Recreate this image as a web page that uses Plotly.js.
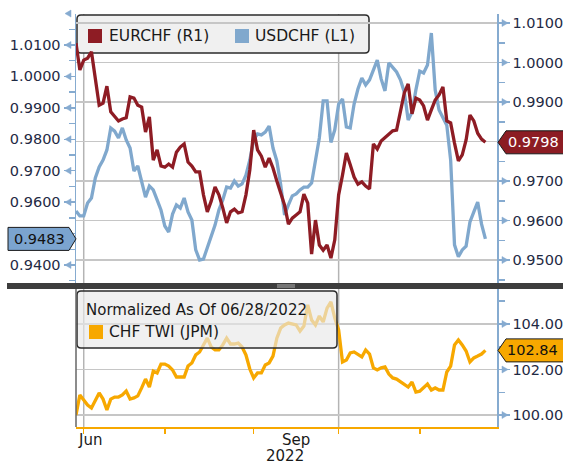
<!DOCTYPE html>
<html><head><meta charset="utf-8">
<script src="https://cdn.plot.ly/plotly-3.0.1.min.js"></script>
<style>html,body{margin:0;padding:0;background:#fff}#chart{width:563px;height:465px}</style>
</head><body><div id="chart"></div>
<script>
// ---------------- DATA ----------------
const startDate = '2022-06-29';
const seriesNames = ['EURCHF (R1)', 'USDCHF (L1)', 'CHF TWI (JPM)'];
const normalizedNote = 'Normalized As Of 06/28/2022';

const eurchf = [1.0049,0.9981,1.0006,1.0011,1.0027,0.9956,0.9892,0.9897,0.9940,0.9875,
0.9865,0.9852,0.9857,0.9860,0.9913,0.9910,0.9892,0.9887,0.9824,0.9862,
0.9753,0.9779,0.9738,0.9735,0.9743,0.9735,0.9773,0.9786,0.9794,0.9748,
0.9738,0.9723,0.9723,0.9665,0.9622,0.9649,0.9685,0.9665,0.9632,0.9594,
0.9622,0.9629,0.9619,0.9622,0.9665,0.9728,0.9829,0.9779,0.9763,0.9735,
0.9758,0.9733,0.9700,0.9667,0.9639,0.9591,0.9606,0.9614,0.9622,0.9667,
0.9644,0.9515,0.9601,0.9538,0.9525,0.9538,0.9505,0.9551,0.9665,0.9715,
0.9771,0.9741,0.9710,0.9692,0.9698,0.9687,0.9680,0.9794,0.9781,0.9801,
0.9809,0.9819,0.9827,0.9829,0.9877,0.9923,0.9946,0.9870,0.9910,0.9905,
0.9890,0.9854,0.9880,0.9905,0.9918,0.9938,0.9852,0.9847,0.9796,0.9751,
0.9766,0.9804,0.9867,0.9852,0.9821,0.9806,0.9798];

const usdchf = [0.9572,0.9556,0.9556,0.9597,0.9613,0.9677,0.9712,0.9734,0.9766,0.9836,
0.9826,0.9804,0.9836,0.9798,0.9772,0.9699,0.9715,0.9664,0.9616,0.9651,
0.9639,0.9607,0.9575,0.9524,0.9505,0.9562,0.9591,0.9581,0.9613,0.9569,
0.9543,0.9448,0.9416,0.9419,0.9457,0.9496,0.9527,0.9575,0.9607,0.9648,
0.9645,0.9667,0.9651,0.9658,0.9686,0.9734,0.9798,0.9817,0.9814,0.9823,
0.9842,0.9772,0.9731,0.9655,0.9559,0.9591,0.9620,0.9626,0.9639,0.9648,
0.9648,0.9661,0.9734,0.9804,0.9922,0.9922,0.9790,0.9830,0.9912,0.9928,
0.9839,0.9836,0.9912,0.9960,0.9995,0.9973,0.9989,1.0020,1.0052,0.9992,
0.9954,1.0043,1.0030,1.0014,0.9989,0.9950,0.9861,0.9887,0.9957,1.0017,
1.0011,1.0036,1.0138,0.9957,0.9893,0.9868,0.9845,0.9734,0.9464,0.9426,
0.9448,0.9460,0.9537,0.9569,0.9600,0.9530,0.9483];

const chfTwi = [100.00,100.88,100.66,100.44,100.31,100.66,100.97,100.70,100.22,100.70,
100.79,100.79,100.88,101.05,100.70,100.75,100.84,101.19,101.58,101.23,
101.93,101.85,102.24,102.24,102.15,101.98,101.67,101.67,101.67,102.15,
102.29,102.64,102.77,103.08,103.38,102.99,102.86,102.86,103.08,103.38,
103.12,103.12,103.16,102.99,102.64,102.02,101.63,101.85,101.85,102.20,
102.29,102.59,103.38,103.82,103.96,104.04,104.00,103.96,103.69,103.91,
104.84,104.18,103.96,104.35,104.09,104.70,104.97,104.26,103.74,102.33,
102.42,102.73,102.77,102.68,102.55,102.86,102.68,102.07,101.98,102.07,
102.11,101.80,101.63,101.58,101.45,101.32,101.23,101.45,101.01,101.05,
101.23,101.36,101.10,101.19,101.10,101.10,101.89,102.15,103.08,103.30,
103.08,102.81,102.33,102.51,102.59,102.68,102.84];

const leftTickVals  = [0.94, 0.95, 0.96, 0.97, 0.98, 0.99, 1.00, 1.01, 1.02];
const leftTickText  = ['0.9400','', '0.9600','0.9700','0.9800','0.9900','1.0000','1.0100',''];
const rightTickVals = [0.95, 0.96, 0.97, 0.98, 0.99, 1.00, 1.01];
const rightTickText = ['0.9500','0.9600','0.9700','','0.9900','1.0000','1.0100'];
const twiTickVals   = [100, 102, 104];
const twiTickText   = ['100.00','102.00','104.00'];
const monthStarts   = ['2022-07-01','2022-08-01','2022-09-01','2022-10-03','2022-11-01'];
const quarterStarts = ['2022-07-01','2022-10-03'];
const xLabelText    = ['Jun','Sep'];
const xLabelAt      = ['2022-06-29','2022-09-16'];
const yearLabel     = '2022';
const yearLabelAt   = '2022-09-13';

// ---------------- STYLE / LAYOUT HELPERS ----------------
const FONT = 'DejaVu Sans, Verdana, sans-serif';
const RED = '#8e1c24', BLUE = '#80a8cd', ORANGE = '#f7a800';
const AXBLUE = '#86abd0', LABEL = '#1f2a44', GRID = '#c6c6c6';
const W = 563, H = 465, ML = 76, MR = 66, MT = 14, MB = 38;
const PW = W - ML - MR, PH = H - MT - MB;
const PX = x => (x - ML) / PW;
const PY = y => (H - MB - y) / PH;
const domTop = [PY(283), 1];
const domBot = [0, PY(289)];
const usdRange = [0.93427, 1.01986];
const eurRange = [0.94418, 1.01228];
const twiRange = [99.473, 105.538];
const v2p = (v, r, d) => d[0] + (v - r[0]) / (r[1] - r[0]) * (d[1] - d[0]);

function businessDays(start, n) {
  const out = []; const d = new Date(start + 'T00:00:00Z');
  while (out.length < n) {
    const wd = d.getUTCDay();
    if (wd !== 0 && wd !== 6) out.push(d.toISOString().slice(0, 10));
    d.setUTCDate(d.getUTCDate() + 1);
  }
  return out;
}
const dates = businessDays(startDate, eurchf.length);

function roundRect(x0, y0, x1, y1, r) {
  const a = PX(x0), b = PX(x1), t = PY(y0), u = PY(y1);
  const rx = r / PW, ry = r / PH;
  return `M ${a + rx},${t} L ${b - rx},${t} Q ${b},${t} ${b},${t - ry} L ${b},${u + ry} Q ${b},${u} ${b - rx},${u} L ${a + rx},${u} Q ${a},${u} ${a},${u + ry} L ${a},${t - ry} Q ${a},${t} ${a + rx},${t} Z`;
}
function rectPx(x0, y0, x1, y1, fill, line) {
  return {type: 'rect', xref: 'paper', yref: 'paper', x0: PX(x0), x1: PX(x1), y0: PY(y1), y1: PY(y0),
    fillcolor: fill, line: {width: line ? 1 : 0, color: line || fill}, layer: 'above'};
}

// ---------------- TRACES ----------------
const traces = [
  {x: dates, y: eurchf, yaxis: 'y2', type: 'scatter', mode: 'lines', line: {color: RED, width: 3.3}, name: seriesNames[0]},
  {x: dates, y: usdchf, yaxis: 'y', type: 'scatter', mode: 'lines', line: {color: BLUE, width: 3.3}, name: seriesNames[1]},
  {x: dates, y: chfTwi, yaxis: 'y3', type: 'scatter', mode: 'lines', line: {color: ORANGE, width: 3.3}, name: seriesNames[2]}
];

// ---------------- SHAPES ----------------
const shapes = [];
quarterStarts.forEach(q => {
  [domTop, domBot].forEach(d => shapes.push({type: 'line', xref: 'x', yref: 'paper', x0: q, x1: q, y0: d[0], y1: d[1],
    line: {color: '#b4b4b4', width: 1.5}, layer: 'between'}));
});
// legend boxes
shapes.push({type: 'path', xref: 'paper', yref: 'paper', path: roundRect(77, 15, 369, 53, 4),
  fillcolor: 'rgb(240,240,240)', line: {color: '#2b2b2b', width: 1.5}, layer: 'between'});
shapes.push({type: 'path', xref: 'paper', yref: 'paper', path: roundRect(77, 291, 337, 348, 4),
  fillcolor: 'rgba(232,232,232,0.65)', line: {color: '#2b2b2b', width: 1.5}, layer: 'above'});
// legend squares
shapes.push(rectPx(88, 29, 102, 43, RED));
shapes.push(rectPx(235, 29, 249, 43, BLUE));
shapes.push(rectPx(89, 325, 103, 339, ORANGE));
// bottom panel left line
shapes.push({type: 'line', xref: 'paper', yref: 'paper', x0: 0, x1: 0, y0: domBot[0], y1: domBot[1], line: {color: '#666', width: 1.5}, layer: 'above'});
// divider bar and grip
shapes.push(rectPx(7, 283, 563, 289, '#3d3d3d'));
shapes.push({type: 'line', xref: 'paper', yref: 'paper', x0: PX(277), x1: PX(295), y0: PY(285), y1: PY(285), line: {color: '#b0b0b0', width: 1}, layer: 'above'});
shapes.push({type: 'line', xref: 'paper', yref: 'paper', x0: PX(277), x1: PX(295), y0: PY(287), y1: PY(287), line: {color: '#b0b0b0', width: 1}, layer: 'above'});

// tick triangles
const th = 3.5 / PH;
function triLeft(v, r, d) {
  const p = v2p(v, r, d);
  if (p < d[0] - 0.001 || p > d[1] + 0.003) return;
  shapes.push({type: 'path', xref: 'paper', yref: 'paper', path: `M ${PX(71)},${p + th} L ${PX(65)},${p} L ${PX(71)},${p - th} Z`,
    fillcolor: AXBLUE, line: {color: AXBLUE, width: 0.5}, layer: 'above'});
}
function triRight(v, r, d) {
  const p = v2p(v, r, d);
  if (p < d[0] - 0.001 || p > d[1] + 0.001) return;
  shapes.push({type: 'path', xref: 'paper', yref: 'paper', path: `M ${PX(502)},${p + th} L ${PX(508)},${p} L ${PX(502)},${p - th} Z`,
    fillcolor: AXBLUE, line: {color: AXBLUE, width: 0.5}, layer: 'above'});
}
leftTickVals.forEach(v => triLeft(v, usdRange, domTop));
rightTickVals.forEach(v => triRight(v, eurRange, domTop));
twiTickVals.forEach(v => triRight(v, twiRange, domBot));

// value badges
const bh = 11.5 / PH;
function badgeLeft(v, r, d, fill) {
  const p = v2p(v, r, d);
  shapes.push({type: 'path', xref: 'paper', yref: 'paper',
    path: `M ${PX(8)},${p + bh} L ${PX(69)},${p + bh} L ${PX(76)},${p} L ${PX(69)},${p - bh} L ${PX(8)},${p - bh} Z`,
    fillcolor: fill, line: {color: '#1a1a1a', width: 1}, layer: 'above'});
  return p;
}
function badgeRight(v, r, d, fill) {
  const p = v2p(v, r, d);
  shapes.push({type: 'path', xref: 'paper', yref: 'paper',
    path: `M ${PX(498)},${p} L ${PX(506)},${p + bh} L ${PX(566)},${p + bh} L ${PX(566)},${p - bh} L ${PX(506)},${p - bh} Z`,
    fillcolor: fill, line: {color: '#1a1a1a', width: 1}, layer: 'above'});
  return p;
}
const lastUsd = usdchf[usdchf.length - 1], lastEur = eurchf[eurchf.length - 1], lastTwi = chfTwi[chfTwi.length - 1];
const pUsd = badgeLeft(lastUsd, usdRange, domTop, '#7ba4cf');
const pEur = badgeRight(lastEur, eurRange, domTop, '#8c1c23');
const pTwi = badgeRight(lastTwi, twiRange, domBot, '#f7a800');

// ---------------- ANNOTATIONS ----------------
const ann = [];
const txt = (text, x, y, opts) => ann.push(Object.assign({text, x, y, xref: 'paper', yref: 'paper', showarrow: false,
  xanchor: 'left', yanchor: 'middle', font: {family: FONT, size: 15, color: '#1a1a1a'}}, opts || {}));
txt(seriesNames[0], PX(107), PY(36), {font: {family: FONT, size: 15.5, color: '#1a1a1a'}});
txt(seriesNames[1], PX(253), PY(36), {font: {family: FONT, size: 15.5, color: '#1a1a1a'}});
txt(normalizedNote, PX(84), PY(310));
txt(seriesNames[2], PX(107), PY(332), {font: {family: FONT, size: 15.5, color: '#1a1a1a'}});
txt(lastUsd.toFixed(4), PX(39), pUsd, {xanchor: 'center', font: {family: FONT, size: 14.5, color: '#111'}});
txt(lastEur.toFixed(4), PX(533), pEur, {xanchor: 'center', font: {family: FONT, size: 14.5, color: '#ffffff'}});
txt(lastTwi.toFixed(2), PX(532), pTwi, {xanchor: 'center', font: {family: FONT, size: 14.5, color: '#111'}});
xLabelText.forEach((t, i) => ann.push({text: t, x: xLabelAt[i], y: PY(440), xref: 'x', yref: 'paper', showarrow: false,
  xanchor: i === 0 ? 'left' : 'center', yanchor: 'middle', font: {family: FONT, size: 15, color: '#1a1a1a'}}));
ann.push({text: yearLabel, x: yearLabelAt, y: PY(456), xref: 'x', yref: 'paper', showarrow: false,
  xanchor: 'center', yanchor: 'middle', font: {family: FONT, size: 15, color: '#1a1a1a'}});

// ---------------- LAYOUT ----------------
const tickFont = {family: FONT, size: 14.5, color: LABEL};
const minorStyle = (t0, dt) => ({tickmode: 'linear', tick0: t0, dtick: dt, ticks: 'outside', ticklen: 6, tickwidth: 1.5, tickcolor: AXBLUE, showgrid: false});
const layout = {
  width: W, height: H,
  margin: {l: ML, r: MR, t: MT, b: MB, pad: 0},
  paper_bgcolor: '#ffffff', plot_bgcolor: '#ffffff',
  showlegend: false, hovermode: false,
  xaxis: {type: 'category', range: [0, 109], anchor: 'y3', tickmode: 'array', tickvals: monthStarts,
    ticktext: monthStarts.map(() => ''), ticks: 'outside', ticklen: 5, tickwidth: 1.5, tickcolor: ORANGE,
    showline: true, linecolor: ORANGE, linewidth: 2, showgrid: false, zeroline: false},
  yaxis: {domain: domTop, range: usdRange, side: 'left', anchor: 'x', tickmode: 'array', tickvals: leftTickVals,
    ticktext: leftTickText, ticks: 'outside', ticklen: 11, tickwidth: 1.5, tickcolor: AXBLUE, showline: true,
    linecolor: AXBLUE, linewidth: 1.5, showgrid: false, zeroline: false, tickfont: tickFont,
    minor: minorStyle(0.935, 0.01)},
  yaxis2: {overlaying: 'y', range: eurRange, side: 'right', anchor: 'x', tickmode: 'array', tickvals: rightTickVals,
    ticktext: rightTickText, ticks: 'outside', ticklen: 11, tickwidth: 1.5, tickcolor: AXBLUE, showline: true,
    linecolor: AXBLUE, linewidth: 1.5, showgrid: true, gridcolor: GRID, gridwidth: 1.5, zeroline: false, tickfont: tickFont,
    minor: minorStyle(0.945, 0.01)},
  yaxis3: {domain: domBot, range: twiRange, side: 'right', anchor: 'x', tickmode: 'array', tickvals: twiTickVals,
    ticktext: twiTickText, ticks: 'outside', ticklen: 11, tickwidth: 1.5, tickcolor: AXBLUE, showline: true,
    linecolor: AXBLUE, linewidth: 1.5, showgrid: true, gridcolor: GRID, gridwidth: 1.5, zeroline: false, tickfont: tickFont,
    minor: minorStyle(99, 2)},
  shapes: shapes,
  annotations: ann
};

Plotly.newPlot('chart', traces, layout, {staticPlot: true, displayModeBar: false});
</script>
</body></html>
